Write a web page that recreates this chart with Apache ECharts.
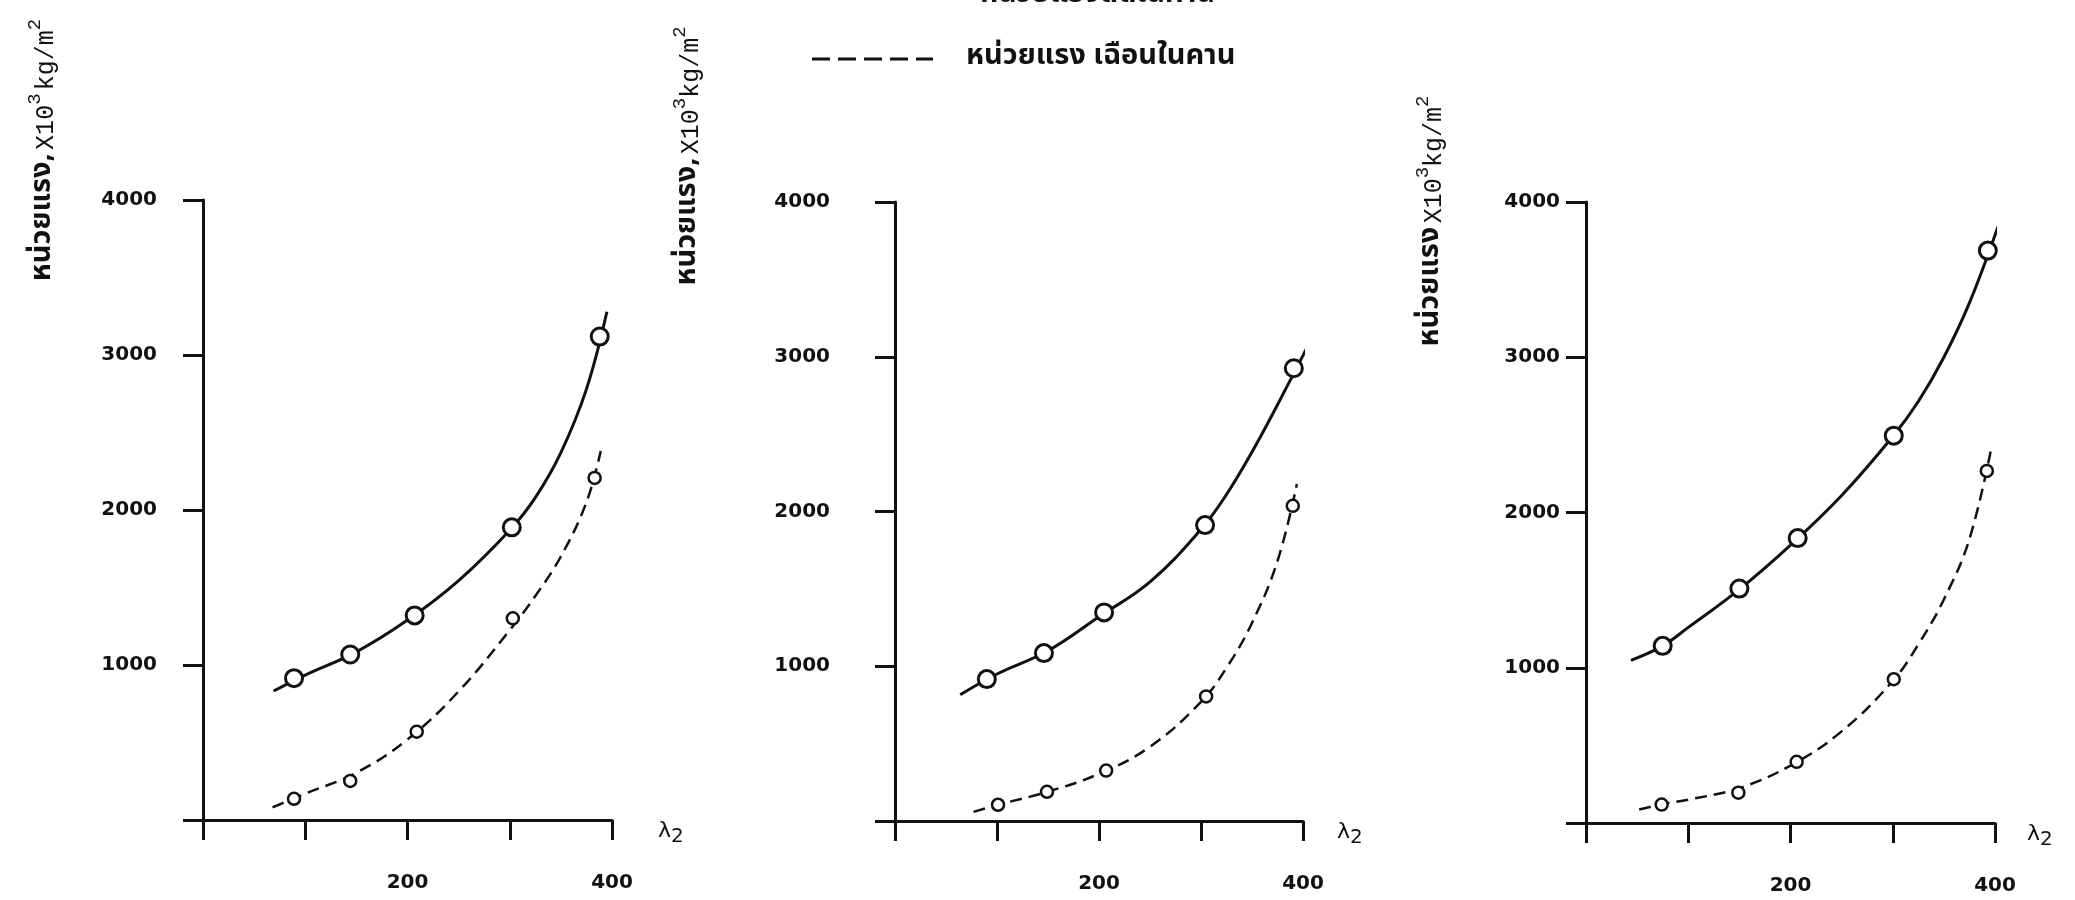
<!DOCTYPE html>
<html>
<head>
<meta charset="utf-8">
<script src="https://cdn.jsdelivr.net/npm/echarts@6/dist/echarts.min.js"></script>
<style>
  html, body { margin: 0; padding: 0; background: #fff; }
  #main { width: 2075px; height: 900px; }
</style>
</head>
<body>
<div id="main"></div>
<script>
// axis ticks / labels
var xLabels = [200, 400];
var yLabels = [1000, 2000, 3000, 4000];

// panel 1 - measured points
var p1SolidX = [89, 144, 207, 302, 388];
var p1SolidY = [915, 1068, 1320, 1888, 3119];
var p1DashX = [89, 144, 209, 303, 383];
var p1DashY = [137, 252, 570, 1301, 2207];
// panel 1 - drawn curves
var p1SolidFit = [[69, 832], [100, 935], [150, 1085], [200, 1290], [250, 1545], [300, 1870], [325, 2080], [350, 2370], [375, 2780], [395, 3279]];
var p1DashFit = [[68, 81], [100, 170], [150, 305], [200, 520], [250, 830], [300, 1225], [325, 1445], [350, 1700], [375, 2050], [389, 2381]];

// panel 2
var p2SolidX = [90, 146, 205, 304, 391];
var p2SolidY = [917, 1085, 1348, 1912, 2926];
var p2DashX = [101, 149, 207, 305, 390];
var p2DashY = [105, 189, 326, 805, 2037];
var p2SolidFit = [[64, 816], [100, 950], [150, 1100], [200, 1320], [250, 1545], [300, 1885], [325, 2110], [350, 2385], [375, 2690], [404, 3060]];
var p2DashFit = [[77, 59], [100, 103], [150, 190], [200, 305], [250, 480], [300, 770], [325, 990], [350, 1280], [375, 1680], [394, 2177]];

// panel 3
var p3SolidX = [75, 150, 207, 301, 393];
var p3SolidY = [1141, 1510, 1835, 2495, 3687];
var p3DashX = [74, 149, 206, 301, 392];
var p3DashY = [119, 195, 394, 926, 2268];
var p3SolidFit = [[44, 1048], [75, 1141], [100, 1260], [150, 1505], [200, 1790], [250, 2110], [300, 2490], [325, 2715], [350, 3000], [375, 3350], [403, 3842]];
var p3DashFit = [[52, 87], [75, 122], [100, 150], [150, 225], [200, 370], [250, 590], [300, 915], [325, 1150], [350, 1440], [375, 1830], [397, 2435]];

var legendText = 'หน่วยแรง เฉือนในคาน';
var topText = 'หน่วยแรงดัดในคาน';
var yNames = [
  '{t|หน่วยแรง,} {m|X10}{s|3} {m|kg/m}{s|2}',
  '{t|หน่วยแรง,} {m|X10}{s|3}{m|kg/m}{s|2}',
  '{t|หน่วยแรง} {m|X10}{s|3}{m|kg/m}{s|2}'
];

var INK = '#111';
var thaiFont = "'Noto Sans Thai', 'Noto Serif Thai', 'Loma', 'Garuda', 'DejaVu Sans', sans-serif";
var numFont = "'DejaVu Sans', sans-serif";

function zip(xs, ys) {
  return xs.map(function (x, i) { return [x, ys[i]]; });
}

// grid position per panel
var grids = [
  { left: 203, top: 200, width: 409, height: 620 },
  { left: 895, top: 202, width: 408, height: 619 },
  { left: 1586, top: 202, width: 409, height: 621 }
];
var yLabelMargin = [46, 65, 26];
var nameGaps = [46, 34, 32];

var panels = [
  { sx: p1SolidX, sy: p1SolidY, dx: p1DashX, dy: p1DashY, sf: p1SolidFit, df: p1DashFit },
  { sx: p2SolidX, sy: p2SolidY, dx: p2DashX, dy: p2DashY, sf: p2SolidFit, df: p2DashFit },
  { sx: p3SolidX, sy: p3SolidY, dx: p3DashX, dy: p3DashY, sf: p3SolidFit, df: p3DashFit }
];

var xAxes = [], yAxes = [], series = [];
panels.forEach(function (p, i) {
  xAxes.push({
    gridIndex: i, type: 'value', min: 0, max: 400, interval: 100,
    name: '{l|λ}{s|2}',
    nameLocation: 'end', nameGap: nameGaps[i],
    nameTextStyle: {
      padding: [22, 0, 0, 0],
      rich: {
        l: { fontFamily: numFont, fontSize: 22, lineHeight: 22, verticalAlign: 'top', color: INK },
        s: { fontFamily: numFont, fontSize: 20, lineHeight: 20, padding: [12, 0, 0, 0], color: INK }
      }
    },
    splitLine: { show: false },
    axisLine: { lineStyle: { color: INK, width: 3 } },
    axisTick: { length: 20, lineStyle: { color: INK, width: 3 } },
    axisLabel: {
      margin: 53, color: INK, fontFamily: numFont, fontSize: 20, fontWeight: 'bold',
      formatter: function (v) { return xLabels.indexOf(v) >= 0 ? String(v) : ''; }
    }
  });
  yAxes.push({
    gridIndex: i, type: 'value', min: 0, max: 4000, interval: 1000,
    splitLine: { show: false },
    axisLine: { lineStyle: { color: INK, width: 3 } },
    axisTick: { length: 20, lineStyle: { color: INK, width: 3 } },
    axisLabel: {
      margin: yLabelMargin[i], color: INK, fontFamily: numFont, fontSize: 20, fontWeight: 'bold',
      formatter: function (v) { return yLabels.indexOf(v) >= 0 ? String(v) : ''; }
    }
  });
  series.push({
    type: 'line', xAxisIndex: i, yAxisIndex: i, data: p.sf,
    smooth: 0.4, symbol: 'none', clip: false,
    lineStyle: { color: INK, width: 3 }
  });
  series.push({
    type: 'line', xAxisIndex: i, yAxisIndex: i, data: p.df,
    smooth: 0.4, symbol: 'none', clip: false,
    lineStyle: { color: INK, width: 2.5, type: [12, 7] }
  });
  series.push({
    type: 'scatter', xAxisIndex: i, yAxisIndex: i, data: zip(p.sx, p.sy),
    symbol: 'circle', symbolSize: 17, clip: false, z: 5,
    itemStyle: { color: '#fff', borderColor: INK, borderWidth: 3, opacity: 1 }
  });
  series.push({
    type: 'scatter', xAxisIndex: i, yAxisIndex: i, data: zip(p.dx, p.dy),
    symbol: 'circle', symbolSize: 12, clip: false, z: 5,
    itemStyle: { color: '#fff', borderColor: INK, borderWidth: 2.5, opacity: 1 }
  });
});

// rotated y-axis titles
var namePos = [[42, 150], [687, 156], [1430, 221]];
var nameRich = {
  t: { fontFamily: thaiFont, fontSize: 29, fontWeight: 'bold', lineHeight: 34, verticalAlign: 'bottom', fill: INK },
  m: { fontFamily: "'Liberation Mono', monospace", fontSize: 25, lineHeight: 34, verticalAlign: 'bottom', fill: INK },
  s: { fontFamily: "'Liberation Mono', monospace", fontSize: 19, lineHeight: 19, verticalAlign: 'top', fill: INK }
};
var graphics = namePos.map(function (pos, i) {
  return {
    type: 'text', x: pos[0], y: pos[1], rotation: Math.PI / 2,
    style: { text: yNames[i], rich: nameRich, align: 'center', verticalAlign: 'middle', fill: INK }
  };
});
graphics.push({
  type: 'line', shape: { x1: 812, y1: 59, x2: 933, y2: 59 },
  style: { stroke: INK, lineWidth: 3, lineDash: [18, 8] }
});
graphics.push({
  type: 'text', x: 966, y: 58,
  style: { text: legendText, font: 'bold 29px ' + thaiFont, fill: INK, verticalAlign: 'middle' }
});
graphics.push({
  type: 'text', x: 980, y: 11,
  style: { text: topText, font: 'bold 29px ' + thaiFont, fill: INK, verticalAlign: 'bottom' }
});

var myChart = echarts.init(document.getElementById('main'));
myChart.setOption({
  animation: false,
  backgroundColor: '#fff',
  grid: grids,
  xAxis: xAxes,
  yAxis: yAxes,
  series: series,
  graphic: graphics
});
</script>
</body>
</html>
